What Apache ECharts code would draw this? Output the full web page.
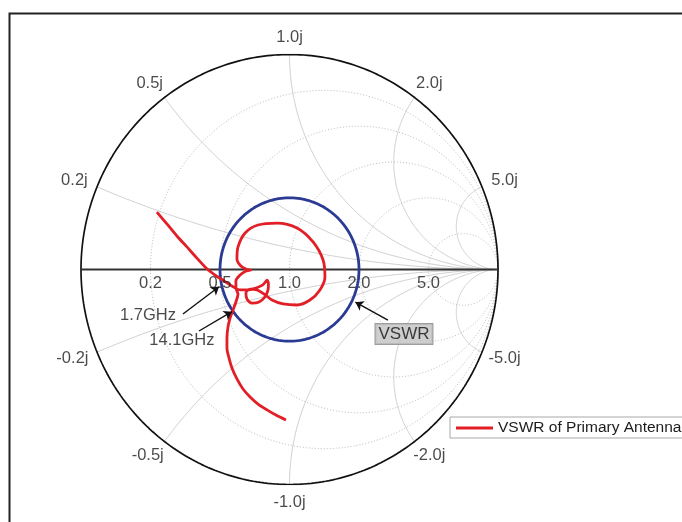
<!DOCTYPE html>
<html>
<head>
<meta charset="utf-8">
<script src="https://cdn.jsdelivr.net/npm/echarts@6/dist/echarts.min.js"></script>
<style>
  html, body { margin: 0; padding: 0; background: #fff; }
  #chart { width: 682px; height: 522px; }
</style>
</head>
<body>
<div id="chart"></div>
<script>
// Smith chart grid: normalised resistance circles and reactance arcs
const resistanceTicks = [0.2, 0.5, 1.0, 2.0, 5.0];
const reactanceTicks = [0.2, 0.5, 1.0, 2.0, 5.0];

// VSWR reference circle
const vswrLevel = 2.0;

// Reflection coefficient of the primary antenna across the sweep (real / imaginary part)
const gammaRe = [
  -0.636, -0.588, -0.540, -0.492, -0.444, -0.400, -0.357, -0.314, -0.276, -0.237,
  -0.199, -0.161, -0.132, -0.115, -0.108, -0.101, -0.103,
  -0.118, -0.146, -0.180, -0.204, -0.209, -0.189, -0.156, -0.122, -0.084,
  -0.031, 0.036, 0.098, 0.146, 0.170, 0.161, 0.113, 0.036, -0.060, -0.151,
  -0.213, -0.247, -0.252, -0.233, -0.204, -0.185,
  -0.213, -0.237, -0.257, -0.257, -0.247, -0.257, -0.271, -0.285, -0.295, -0.300,
  -0.300, -0.290, -0.276, -0.252, -0.223, -0.189, -0.151, -0.108, -0.065, -0.017
];
const gammaIm = [
  0.267, 0.212, 0.156, 0.105, 0.053, 0.007, -0.026, -0.053, -0.077, -0.095,
  -0.095, -0.086, -0.074, -0.058, -0.049, -0.067, -0.095,
  -0.128, -0.151, -0.156, -0.137, -0.109, -0.091, -0.095, -0.114, -0.142,
  -0.160, -0.165, -0.142, -0.095, -0.035, 0.044, 0.128, 0.193, 0.216, 0.207,
  0.170, 0.105, 0.049, 0.016, 0.000, -0.002,
  -0.009, -0.026, -0.053, -0.086, -0.114, -0.151, -0.188, -0.226, -0.267, -0.319,
  -0.365, -0.412, -0.458, -0.509, -0.556, -0.593, -0.626, -0.653, -0.677, -0.700
];

const seriesName = 'VSWR of Primary Antenna';
const FONT = '"Liberation Sans", Arial, sans-serif';
const TEXT_COLOR = '#1c1c1c';

// ---- grid geometry helpers (Γ-plane) ----
function arc(cx, cy, r, a0, a1, n) {
  const pts = [];
  for (let i = 0; i <= n; i++) {
    const a = a0 + (a1 - a0) * i / n;
    pts.push([cx + r * Math.cos(a), cy + r * Math.sin(a)]);
  }
  return pts;
}

// constant-resistance circles
const resistanceLines = resistanceTicks.map(r => ({
  coords: arc(r / (1 + r), 0, 1 / (1 + r), 0, 2 * Math.PI, 180)
}));

// constant-reactance arcs (upper and lower half), clipped to |Γ| <= 1
function boundaryPoint(x) {
  const d = x * x + 1;
  return [(x * x - 1) / d, 2 * x / d];
}
const reactanceLines = [];
reactanceTicks.forEach(x => {
  const b = boundaryPoint(x);
  let a0 = Math.atan2(b[1] - 1 / x, b[0] - 1);
  if (a0 < 0) a0 += 2 * Math.PI;
  const upper = arc(1, 1 / x, 1 / x, a0, 1.5 * Math.PI, 160);
  reactanceLines.push({ coords: upper });
  reactanceLines.push({ coords: upper.map(p => [p[0], -p[1]]) });
});

// outer |Γ| = 1 circle and VSWR circle
const unitCircle = arc(0, 0, 1, 0, 2 * Math.PI, 360);
const vswrRadius = (vswrLevel - 1) / (vswrLevel + 1);
const vswrCircle = arc(0, 0, vswrRadius, 0, 2 * Math.PI, 360);

// tick labels: reactance values just outside the rim, resistance values under the real axis
const tickLabelData = [];
const LABEL_DX = 24.5, LABEL_DY = 17.5;
reactanceTicks.forEach(x => {
  [1, -1].forEach(s => {
    const b = boundaryPoint(x);
    const p = [b[0], s * b[1]];
    tickLabelData.push({
      value: p,
      name: (s < 0 ? '-' : '') + x.toFixed(1) + 'j',
      label: { offset: [p[0] * LABEL_DX - (s < 0 && p[0] < -0.1 ? 2 : 0), -p[1] * LABEL_DY] }
    });
  });
});
resistanceTicks.forEach(r => {
  tickLabelData.push({
    value: [(r - 1) / (r + 1), 0],
    name: r.toFixed(1),
    label: { offset: [0, 13.5] }
  });
});

const curve = gammaRe.map((v, i) => [v, gammaIm[i]]);

const chart = echarts.init(document.getElementById('chart'), null, { renderer: 'canvas' });
chart.setOption({
  animation: false,
  backgroundColor: '#ffffff',
  graphic: [{
    type: 'rect',
    left: 7, top: 11, z: -10,
    shape: { width: 800, height: 700 },
    style: { fill: 'none', stroke: '#222', lineWidth: 2 }
  }],
  grid: { left: 81, top: 54.5, width: 417, height: 430 },
  xAxis: { type: 'value', min: -1, max: 1, show: false },
  yAxis: { type: 'value', min: -1, max: 1, show: false },
  legend: {
    data: [seriesName],
    left: 450, top: 417,
    padding: [3, 200, 2, 6],
    itemWidth: 37, itemHeight: 3,
    icon: 'rect',
    borderColor: '#a8a8a8', borderWidth: 1,
    backgroundColor: '#fff',
    textStyle: { fontFamily: FONT, fontSize: 15.5, color: TEXT_COLOR }
  },
  series: [
    {
      name: 'reactance', type: 'lines', coordinateSystem: 'cartesian2d',
      polyline: true, silent: true, z: 1,
      lineStyle: { color: '#d0d0d0', width: 1, type: 'solid', opacity: 1 },
      data: reactanceLines
    },
    {
      name: 'resistance', type: 'lines', coordinateSystem: 'cartesian2d',
      polyline: true, silent: true, z: 1,
      lineStyle: { color: '#bdbdbd', width: 1, type: [1, 2], opacity: 1 },
      data: resistanceLines
    },
    {
      name: 'outer', type: 'line', data: unitCircle, showSymbol: false, silent: true, z: 2,
      lineStyle: { color: '#111', width: 1.7 }
    },
    {
      name: 'realAxis', type: 'line', data: [[-1, 0], [1, 0]], showSymbol: false, silent: true, z: 2,
      lineStyle: { color: '#333', width: 2 }
    },
    {
      name: 'VSWR', type: 'line', data: vswrCircle, showSymbol: false, silent: true, z: 3,
      lineStyle: { color: '#2b3a93', width: 2.8 },
      markLine: {
        silent: true, animation: false,
        symbol: ['none', 'arrow'], symbolSize: 8,
        label: { show: false },
        lineStyle: { color: '#111', width: 1.4, type: 'solid' },
        emphasis: { disabled: true },
        data: [
          [{ coord: [-0.511, -0.207] }, { coord: [-0.338, -0.080] }],
          [{ coord: [-0.434, -0.286] }, { coord: [-0.276, -0.196] }],
          [{ coord: [0.472, -0.235] }, { coord: [0.316, -0.152] }]
        ]
      }
    },
    {
      name: seriesName, type: 'line', data: curve, showSymbol: false, silent: true, z: 4,
      smooth: 0.3,
      itemStyle: { color: '#e21f26' },
      lineStyle: { color: '#e21f26', width: 2.8 }
    },
    {
      name: 'tickLabels', type: 'scatter', data: tickLabelData, symbolSize: 0, silent: true, z: 5,
      label: {
        show: true, position: 'inside', formatter: p => p.name,
        fontFamily: FONT, fontSize: 16.5, color: TEXT_COLOR
      }
    },
    {
      name: 'notes', type: 'scatter', symbolSize: 0, silent: true, z: 6,
      label: { show: true, position: 'inside', formatter: p => p.name, fontFamily: FONT, fontSize: 16.5, color: TEXT_COLOR },
      data: [
        { value: [-0.679, -0.216], name: '1.7GHz' },
        { value: [-0.516, -0.328], name: '14.1GHz' },
        {
          value: [0.549, -0.300], name: 'VSWR',
          label: {
            fontSize: 17, backgroundColor: '#c2c2c2', borderColor: '#858585', borderWidth: 1,
            padding: [2, 3, 1, 3], color: '#111'
          }
        }
      ]
    }
  ]
});
</script>
</body>
</html>
